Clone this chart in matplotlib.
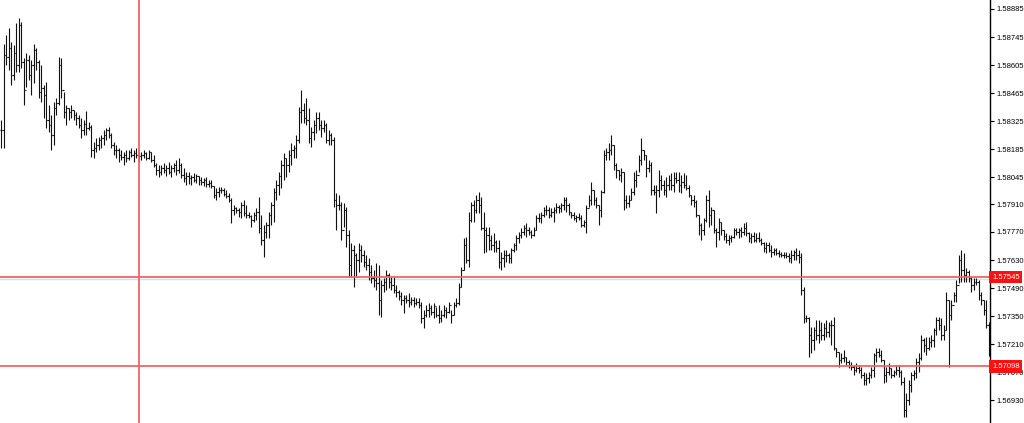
import matplotlib
matplotlib.use("Agg")
import matplotlib.pyplot as plt
import matplotlib.transforms as mtransforms
from matplotlib.collections import LineCollection

# bar data (high / low / close) in segments, left to right
hi_a = [1.58330, 1.58710, 1.58755, 1.58790, 1.58720, 1.58705, 1.58815, 1.58840, 1.58820, 1.58640,
        1.58665, 1.58655, 1.58630, 1.58710, 1.58690, 1.58630, 1.58605, 1.58505, 1.58520, 1.58405,
        1.58355, 1.58420, 1.58440, 1.58645, 1.58640, 1.58470, 1.58405, 1.58390, 1.58405, 1.58380,
        1.58370, 1.58355, 1.58340, 1.58330, 1.58375, 1.58320, 1.58305, 1.58220, 1.58240, 1.58245,
        1.58255, 1.58280, 1.58290, 1.58295, 1.58265, 1.58220, 1.58205, 1.58190, 1.58180, 1.58170,
        1.58180, 1.58180, 1.58190, 1.58180, 1.58190, 1.58170]
lo_a = [1.58190, 1.58190, 1.58605, 1.58580, 1.58505, 1.58530, 1.58570, 1.58570, 1.58590, 1.58405,
        1.58495, 1.58530, 1.58455, 1.58515, 1.58580, 1.58440, 1.58420, 1.58340, 1.58290, 1.58270,
        1.58180, 1.58205, 1.58355, 1.58405, 1.58440, 1.58340, 1.58305, 1.58330, 1.58340, 1.58330,
        1.58305, 1.58290, 1.58240, 1.58255, 1.58255, 1.58280, 1.58145, 1.58140, 1.58170, 1.58180,
        1.58190, 1.58205, 1.58230, 1.58240, 1.58190, 1.58155, 1.58140, 1.58120, 1.58130, 1.58105,
        1.58120, 1.58130, 1.58145, 1.58120, 1.58140, 1.58120]
cl_a = [1.58280, 1.58655, 1.58645, 1.58690, 1.58555, 1.58665, 1.58605, 1.58805, 1.58620, 1.58480,
        1.58630, 1.58555, 1.58605, 1.58680, 1.58620, 1.58470, 1.58490, 1.58455, 1.58330, 1.58305,
        1.58255, 1.58390, 1.58415, 1.58605, 1.58480, 1.58370, 1.58390, 1.58370, 1.58380, 1.58355,
        1.58340, 1.58305, 1.58280, 1.58310, 1.58290, 1.58295, 1.58180, 1.58190, 1.58205, 1.58230,
        1.58240, 1.58255, 1.58280, 1.58255, 1.58205, 1.58180, 1.58180, 1.58155, 1.58145, 1.58155,
        1.58140, 1.58170, 1.58155, 1.58165, 1.58155, 1.58150]

hi_b = [1.58170, 1.58180, 1.58170, 1.58180, 1.58170, 1.58155, 1.58115, 1.58105, 1.58105, 1.58115,
        1.58105, 1.58120, 1.58105, 1.58115, 1.58130, 1.58140, 1.58115, 1.58090, 1.58070, 1.58070,
        1.58055, 1.58065, 1.58060, 1.58050, 1.58045, 1.58040, 1.58045, 1.58030, 1.58030, 1.58000,
        1.57990, 1.57995, 1.57995, 1.57990, 1.57980, 1.57965, 1.57940, 1.57905, 1.57895, 1.57890,
        1.57920, 1.57930, 1.57905, 1.57870, 1.57855, 1.57870, 1.57890, 1.57945, 1.57855, 1.57805,
        1.57820, 1.57870, 1.57920, 1.57990, 1.58030, 1.58070, 1.58130, 1.58165]
lo_b = [1.58130, 1.58140, 1.58130, 1.58135, 1.58120, 1.58095, 1.58055, 1.58045, 1.58055, 1.58065,
        1.58050, 1.58060, 1.58045, 1.58070, 1.58055, 1.58065, 1.58040, 1.58020, 1.58005, 1.58010,
        1.58005, 1.58020, 1.58015, 1.58005, 1.58005, 1.58000, 1.57995, 1.57995, 1.57990, 1.57940,
        1.57930, 1.57945, 1.57965, 1.57950, 1.57940, 1.57920, 1.57815, 1.57855, 1.57865, 1.57845,
        1.57840, 1.57850, 1.57840, 1.57840, 1.57795, 1.57820, 1.57830, 1.57765, 1.57705, 1.57645,
        1.57740, 1.57740, 1.57805, 1.57820, 1.57930, 1.57955, 1.57990, 1.58030]
cl_b = [1.58155, 1.58165, 1.58140, 1.58170, 1.58130, 1.58105, 1.58080, 1.58070, 1.58090, 1.58080,
        1.58090, 1.58070, 1.58090, 1.58105, 1.58080, 1.58105, 1.58055, 1.58040, 1.58050, 1.58040,
        1.58045, 1.58030, 1.58050, 1.58030, 1.58020, 1.58030, 1.58010, 1.58015, 1.58000, 1.57955,
        1.57970, 1.57980, 1.57980, 1.57960, 1.57950, 1.57930, 1.57880, 1.57890, 1.57880, 1.57870,
        1.57905, 1.57865, 1.57855, 1.57850, 1.57830, 1.57855, 1.57870, 1.57790, 1.57730, 1.57770,
        1.57805, 1.57855, 1.57905, 1.57970, 1.58005, 1.58050, 1.58105, 1.58140]

hi_c = [1.58140, 1.58180, 1.58215, 1.58205, 1.58255, 1.58395, 1.58480, 1.58415, 1.58440, 1.58390,
        1.58295, 1.58330, 1.58370, 1.58370, 1.58330, 1.58330, 1.58315, 1.58280, 1.58265, 1.58245,
        1.57965, 1.57955, 1.57920, 1.57915, 1.57895, 1.57780, 1.57715, 1.57705, 1.57665, 1.57715,
        1.57705, 1.57680, 1.57655, 1.57640, 1.57605, 1.57580, 1.57615, 1.57605, 1.57530, 1.57540,
        1.57580, 1.57565, 1.57545, 1.57545, 1.57505, 1.57480, 1.57470, 1.57455, 1.57455, 1.57465,
        1.57445, 1.57445, 1.57440, 1.57440, 1.57420, 1.57380]
lo_c = [1.58045, 1.58070, 1.58105, 1.58140, 1.58140, 1.58215, 1.58315, 1.58315, 1.58305, 1.58215,
        1.58195, 1.58230, 1.58265, 1.58280, 1.58245, 1.58270, 1.58215, 1.58205, 1.58205, 1.57895,
        1.57780, 1.57880, 1.57730, 1.57795, 1.57695, 1.57545, 1.57545, 1.57495, 1.57545, 1.57570,
        1.57620, 1.57595, 1.57580, 1.57530, 1.57515, 1.57495, 1.57480, 1.57355, 1.57345, 1.57470,
        1.57480, 1.57490, 1.57480, 1.57465, 1.57445, 1.57430, 1.57405, 1.57365, 1.57415, 1.57395,
        1.57405, 1.57395, 1.57405, 1.57390, 1.57315, 1.57290]
cl_c = [1.58105, 1.58155, 1.58180, 1.58190, 1.58230, 1.58370, 1.58380, 1.58340, 1.58330, 1.58240,
        1.58270, 1.58305, 1.58340, 1.58305, 1.58290, 1.58305, 1.58230, 1.58255, 1.58230, 1.57930,
        1.57905, 1.57905, 1.57780, 1.57880, 1.57755, 1.57605, 1.57680, 1.57655, 1.57630, 1.57680,
        1.57655, 1.57620, 1.57605, 1.57570, 1.57540, 1.57530, 1.57515, 1.57430, 1.57505, 1.57520,
        1.57555, 1.57520, 1.57505, 1.57480, 1.57470, 1.57450, 1.57430, 1.57440, 1.57430, 1.57420,
        1.57430, 1.57415, 1.57420, 1.57405, 1.57340, 1.57355]

hi_d = [1.57405, 1.57415, 1.57405, 1.57415, 1.57395, 1.57405, 1.57380, 1.57405, 1.57395, 1.57420,
        1.57380, 1.57420, 1.57440, 1.57515, 1.57595, 1.57740, 1.57745, 1.57870, 1.57920, 1.57930,
        1.57955, 1.57970, 1.57945, 1.57870, 1.57795, 1.57795, 1.57755, 1.57765, 1.57730, 1.57730,
        1.57670, 1.57680, 1.57680, 1.57665, 1.57690, 1.57715, 1.57755, 1.57770, 1.57790, 1.57805,
        1.57815, 1.57795, 1.57780, 1.57795, 1.57855, 1.57865, 1.57870, 1.57895, 1.57905, 1.57895,
        1.57890, 1.57895, 1.57915, 1.57905, 1.57915, 1.57945]
lo_d = [1.57345, 1.57345, 1.57355, 1.57340, 1.57345, 1.57315, 1.57320, 1.57345, 1.57340, 1.57365,
        1.57315, 1.57355, 1.57395, 1.57405, 1.57495, 1.57580, 1.57615, 1.57595, 1.57820, 1.57820,
        1.57865, 1.57865, 1.57780, 1.57665, 1.57670, 1.57680, 1.57680, 1.57670, 1.57670, 1.57590,
        1.57580, 1.57595, 1.57620, 1.57615, 1.57615, 1.57670, 1.57680, 1.57715, 1.57740, 1.57755,
        1.57745, 1.57755, 1.57740, 1.57750, 1.57780, 1.57820, 1.57815, 1.57845, 1.57855, 1.57840,
        1.57845, 1.57820, 1.57865, 1.57865, 1.57870, 1.57880]
cl_d = [1.57380, 1.57390, 1.57370, 1.57400, 1.57355, 1.57340, 1.57355, 1.57380, 1.57370, 1.57405,
        1.57355, 1.57405, 1.57415, 1.57495, 1.57580, 1.57705, 1.57630, 1.57830, 1.57905, 1.57880,
        1.57930, 1.57905, 1.57790, 1.57780, 1.57755, 1.57730, 1.57705, 1.57720, 1.57690, 1.57620,
        1.57640, 1.57655, 1.57655, 1.57640, 1.57680, 1.57705, 1.57740, 1.57755, 1.57770, 1.57790,
        1.57780, 1.57770, 1.57755, 1.57780, 1.57840, 1.57840, 1.57855, 1.57880, 1.57880, 1.57855,
        1.57870, 1.57880, 1.57895, 1.57890, 1.57905, 1.57930]

hi_e = [1.57945, 1.57915, 1.57870, 1.57870, 1.57855, 1.57865, 1.57855, 1.57830, 1.57905, 1.57955,
        1.58020, 1.57980, 1.57945, 1.57905, 1.57980, 1.58180, 1.58190, 1.58215, 1.58255, 1.58205,
        1.58115, 1.58080, 1.58090, 1.58070, 1.57955, 1.57955, 1.57990, 1.58070, 1.58080, 1.58155,
        1.58240, 1.58180, 1.58155, 1.58130, 1.58120, 1.58005, 1.58005, 1.58080, 1.58055, 1.58030,
        1.58045, 1.58055, 1.58065, 1.58070, 1.58070, 1.58070, 1.58055, 1.58065, 1.58055, 1.58005,
        1.57955, 1.57955, 1.57930, 1.57855, 1.57815, 1.57840]
lo_e = [1.57870, 1.57855, 1.57840, 1.57830, 1.57820, 1.57830, 1.57795, 1.57795, 1.57765, 1.57895,
        1.57905, 1.57905, 1.57890, 1.57805, 1.57845, 1.57965, 1.58130, 1.58130, 1.58155, 1.58080,
        1.58040, 1.58030, 1.58020, 1.57880, 1.57890, 1.57895, 1.57930, 1.57955, 1.57995, 1.58070,
        1.58105, 1.58130, 1.58045, 1.58070, 1.57955, 1.57955, 1.57865, 1.57945, 1.57980, 1.57955,
        1.57945, 1.57980, 1.57980, 1.57970, 1.58015, 1.57970, 1.57965, 1.57990, 1.57980, 1.57945,
        1.57905, 1.57895, 1.57845, 1.57755, 1.57730, 1.57755]
cl_e = [1.57905, 1.57870, 1.57855, 1.57840, 1.57845, 1.57840, 1.57805, 1.57820, 1.57890, 1.57930,
        1.57980, 1.57930, 1.57905, 1.57880, 1.57970, 1.58155, 1.58170, 1.58180, 1.58205, 1.58105,
        1.58080, 1.58055, 1.58070, 1.57930, 1.57915, 1.57930, 1.57970, 1.58030, 1.58055, 1.58130,
        1.58180, 1.58155, 1.58090, 1.58105, 1.57980, 1.57970, 1.57980, 1.58030, 1.58005, 1.57980,
        1.58005, 1.58030, 1.58005, 1.58040, 1.58030, 1.58005, 1.58020, 1.58005, 1.57990, 1.57955,
        1.57930, 1.57920, 1.57855, 1.57805, 1.57780, 1.57830]

hi_f = [1.57955, 1.57980, 1.57895, 1.57880, 1.57790, 1.57840, 1.57820, 1.57780, 1.57765, 1.57755,
        1.57755, 1.57790, 1.57790, 1.57790, 1.57795, 1.57815, 1.57820, 1.57770, 1.57765, 1.57770,
        1.57765, 1.57770, 1.57740, 1.57720, 1.57720, 1.57720, 1.57705, 1.57690, 1.57690, 1.57680,
        1.57670, 1.57670, 1.57670, 1.57665, 1.57680, 1.57680, 1.57690, 1.57680, 1.57665, 1.57495,
        1.57355, 1.57345, 1.57295, 1.57295, 1.57330, 1.57330, 1.57320, 1.57315, 1.57330, 1.57320,
        1.57330, 1.57345, 1.57190, 1.57170, 1.57165, 1.57180]
lo_f = [1.57820, 1.57795, 1.57805, 1.57765, 1.57695, 1.57730, 1.57755, 1.57730, 1.57715, 1.57705,
        1.57720, 1.57740, 1.57755, 1.57740, 1.57745, 1.57755, 1.57750, 1.57720, 1.57715, 1.57720,
        1.57720, 1.57720, 1.57705, 1.57670, 1.57665, 1.57670, 1.57645, 1.57655, 1.57655, 1.57645,
        1.57645, 1.57640, 1.57640, 1.57620, 1.57615, 1.57630, 1.57630, 1.57615, 1.57455, 1.57315,
        1.57320, 1.57145, 1.57165, 1.57180, 1.57230, 1.57215, 1.57230, 1.57230, 1.57245, 1.57245,
        1.57205, 1.57180, 1.57145, 1.57095, 1.57115, 1.57120]
cl_f = [1.57930, 1.57855, 1.57880, 1.57780, 1.57770, 1.57820, 1.57780, 1.57750, 1.57730, 1.57740,
        1.57745, 1.57780, 1.57770, 1.57780, 1.57770, 1.57790, 1.57765, 1.57740, 1.57750, 1.57730,
        1.57740, 1.57730, 1.57715, 1.57690, 1.57705, 1.57680, 1.57670, 1.57680, 1.57665, 1.57660,
        1.57655, 1.57655, 1.57650, 1.57640, 1.57655, 1.57670, 1.57655, 1.57645, 1.57480, 1.57340,
        1.57340, 1.57255, 1.57230, 1.57280, 1.57255, 1.57280, 1.57255, 1.57290, 1.57270, 1.57305,
        1.57305, 1.57190, 1.57170, 1.57130, 1.57140, 1.57145]

hi_g = [1.57145, 1.57130, 1.57120, 1.57105, 1.57115, 1.57105, 1.57095, 1.57070, 1.57065, 1.57070,
        1.57095, 1.57165, 1.57190, 1.57190, 1.57180, 1.57130, 1.57095, 1.57115, 1.57090, 1.57080,
        1.57105, 1.57105, 1.57080, 1.57045, 1.56965, 1.57030, 1.57070, 1.57080, 1.57140, 1.57165,
        1.57255, 1.57240, 1.57245, 1.57245, 1.57255, 1.57290, 1.57345, 1.57345, 1.57340, 1.57305,
        1.57470, 1.57430, 1.57430, 1.57470, 1.57530, 1.57655, 1.57680, 1.57665, 1.57590, 1.57580,
        1.57545, 1.57540, 1.57540, 1.57530, 1.57470, 1.57430, 1.57430, 1.57320]
lo_g = [1.57105, 1.57090, 1.57080, 1.57055, 1.57070, 1.57065, 1.57040, 1.57005, 1.57005, 1.57015,
        1.57040, 1.57045, 1.57120, 1.57145, 1.57120, 1.57015, 1.57020, 1.57055, 1.57040, 1.57045,
        1.57055, 1.57045, 1.57005, 1.56845, 1.56845, 1.56905, 1.56970, 1.57030, 1.57040, 1.57070,
        1.57130, 1.57170, 1.57155, 1.57180, 1.57195, 1.57195, 1.57255, 1.57280, 1.57230, 1.57230,
        1.57280, 1.57095, 1.57330, 1.57420, 1.57420, 1.57515, 1.57520, 1.57520, 1.57520, 1.57520,
        1.57470, 1.57480, 1.57505, 1.57430, 1.57405, 1.57355, 1.57290, 1.57150]
cl_g = [1.57120, 1.57105, 1.57095, 1.57080, 1.57090, 1.57080, 1.57055, 1.57030, 1.57040, 1.57055,
        1.57080, 1.57155, 1.57170, 1.57155, 1.57130, 1.57055, 1.57070, 1.57090, 1.57055, 1.57070,
        1.57080, 1.57070, 1.57020, 1.56880, 1.56930, 1.57005, 1.57055, 1.57065, 1.57120, 1.57140,
        1.57230, 1.57205, 1.57190, 1.57220, 1.57230, 1.57280, 1.57330, 1.57305, 1.57255, 1.57280,
        1.57430, 1.57355, 1.57405, 1.57455, 1.57505, 1.57630, 1.57580, 1.57555, 1.57570, 1.57540,
        1.57505, 1.57520, 1.57520, 1.57455, 1.57430, 1.57380, 1.57305, 1.57255]

price_ticks = [1.58885, 1.58745, 1.58605, 1.58465, 1.58325, 1.58185, 1.58045, 1.57910,
               1.57770, 1.57630, 1.57490, 1.57350, 1.57210, 1.57070, 1.56930]
level_hi = 1.57545
level_lo = 1.57098
bid_line = 1.57535
marker_bar = 55.2

highs = hi_a + hi_b + hi_c + hi_d + hi_e + hi_f + hi_g
lows = lo_a + lo_b + lo_c + lo_d + lo_e + lo_f + lo_g
closes = cl_a + cl_b + cl_c + cl_d + cl_e + cl_f + cl_g
assert len(highs) == len(lows) == len(closes)
opens = [closes[0]] + closes[:-1]  # forex bars: open at previous close

fig = plt.figure(figsize=(10.24, 4.23), dpi=100)
ax = fig.add_axes([0, 0, 990 / 1024, 1])

segs = []
for i, (o, h, l, c) in enumerate(zip(opens, highs, lows, closes)):
    segs.append([(i, l), (i, h)])
    segs.append([(i - 0.45, o), (i, o)])
    segs.append([(i, c), (i + 0.45, c)])
ax.add_collection(LineCollection(segs, colors='#111111', linewidths=0.8))

ax.axhline(bid_line, color='#c8e6f0', lw=1.0, zorder=1)
ax.axhline(level_hi, color='#f26464', lw=1.3, zorder=3)
ax.axhline(level_lo, color='#f26464', lw=1.3, zorder=3)
ax.axvline(marker_bar, color='#f26464', lw=1.3, zorder=3)

n = len(highs)
ax.set_xlim(-0.4, n - 0.4)
ax.set_ylim(1.56815, 1.5893)

for s in ['top', 'left', 'bottom']:
    ax.spines[s].set_visible(False)
ax.spines['right'].set_color('black')
ax.spines['right'].set_linewidth(1.0)
ax.set_xticks([])
ax.yaxis.tick_right()
ax.set_yticks(price_ticks)
ax.set_yticklabels(['%.5f' % p for p in price_ticks], family='Liberation Sans')
ax.tick_params(axis='y', direction='out', length=3, width=0.8, pad=1.5,
               labelsize=5.5, colors='black')

trans = mtransforms.blended_transform_factory(ax.transAxes, ax.transData)
for lvl in (level_hi, level_lo):
    ax.text(1.002, lvl, '%.5f' % lvl, transform=trans, color='white', fontsize=5.5,
            family='Liberation Sans', va='center', ha='left', zorder=5, clip_on=False,
            bbox=dict(facecolor='#ff1010', edgecolor='none', pad=1.9))

fig.savefig('out.png', dpi=100)
